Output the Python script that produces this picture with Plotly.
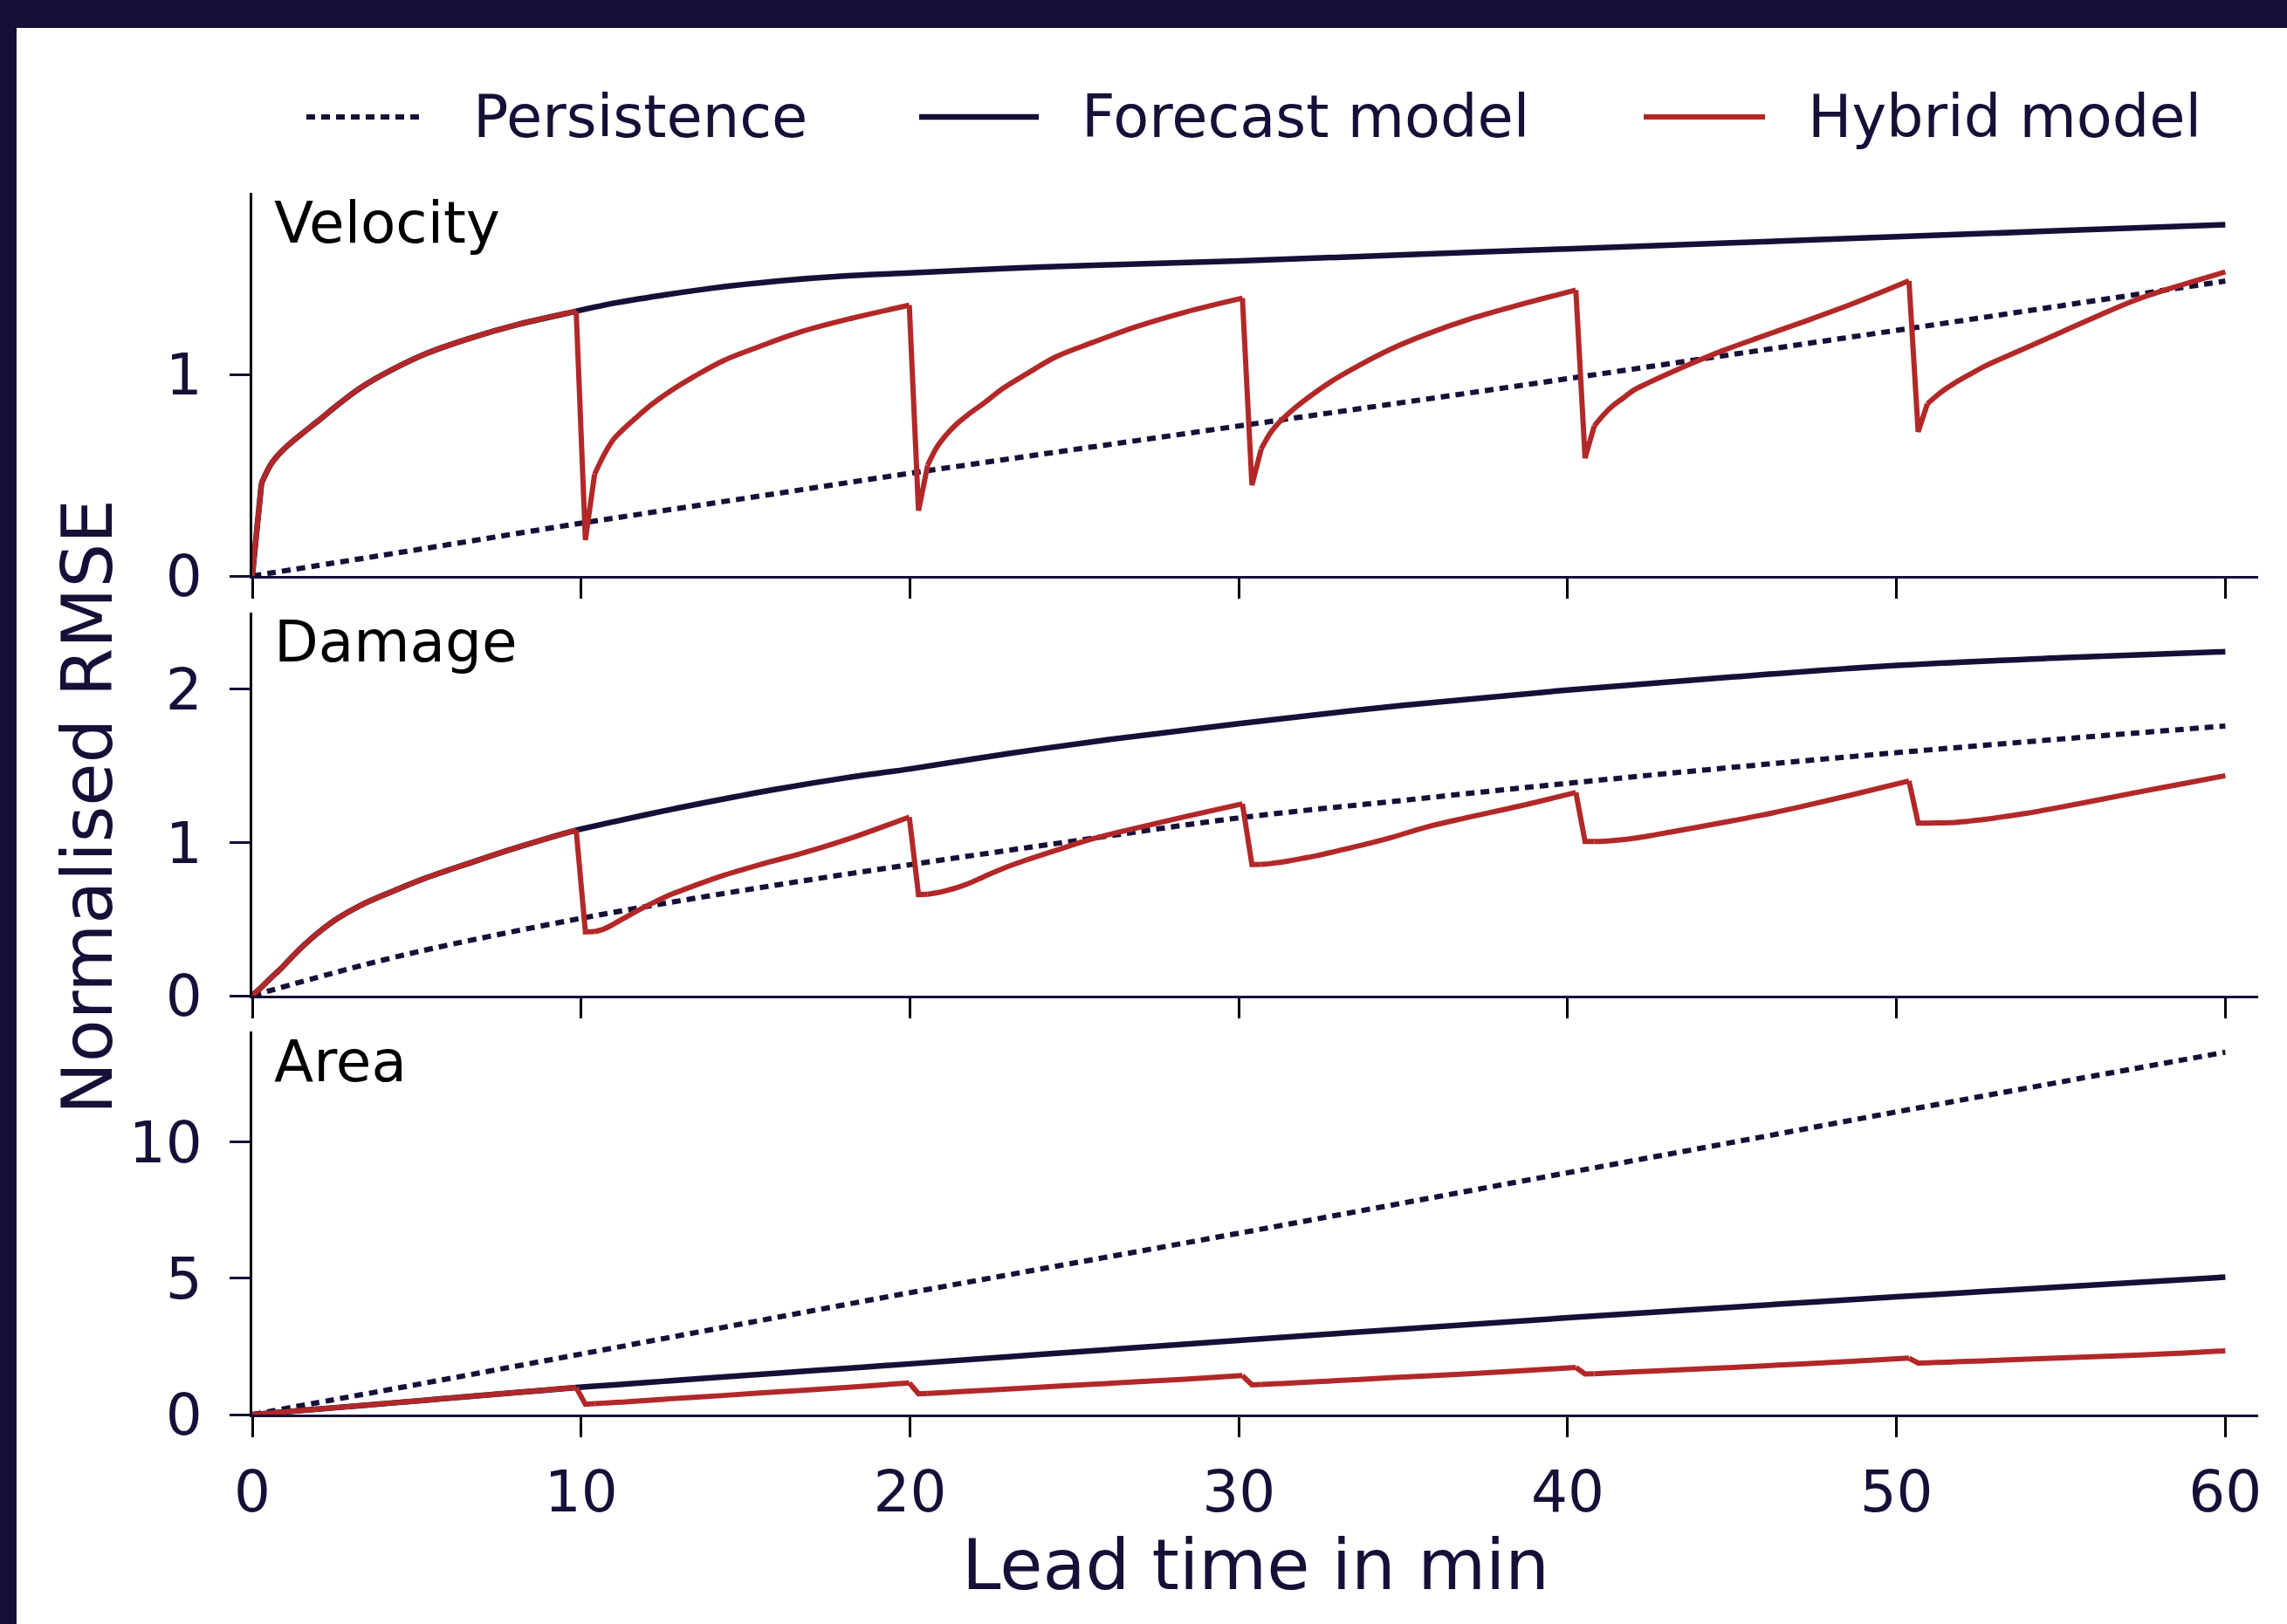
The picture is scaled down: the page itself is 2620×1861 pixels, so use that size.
import plotly.graph_objects as go

# ---------------- data ----------------
lead_ticks = [0, 10, 20, 30, 40, 50, 60]
panel_names = ["Velocity", "Damage", "Area"]

t_persist = [0, 2.5, 5, 10, 15, 20, 25, 30, 35, 40, 45, 50, 55, 60]
persist_velocity = [0, 0.065, 0.13, 0.262, 0.386, 0.51, 0.628, 0.745, 0.862, 0.98, 1.10, 1.22, 1.342, 1.465]
persist_damage = [0, 0.15, 0.285, 0.505, 0.69, 0.855, 1.01, 1.16, 1.275, 1.386, 1.49, 1.586, 1.675, 1.76]
persist_area = [0, 0.55, 1.1, 2.22, 3.35, 4.47, 5.56, 6.65, 7.76, 8.87, 9.98, 11.1, 12.2, 13.29]

t_forecast = [0, 0.28, 0.56, 0.84, 1.13, 1.5, 2.0, 2.6, 3.3, 4.2, 5.3, 6.6, 8.1, 9.85,
              11, 12.5, 14, 16, 18, 20, 23, 26, 30, 35, 40, 45, 50, 55, 60]
forecast_velocity = [0, 0.46, 0.553, 0.61, 0.655, 0.705, 0.77, 0.85, 0.935, 1.02, 1.105, 1.18, 1.25, 1.315,
                     1.355, 1.395, 1.43, 1.465, 1.49, 1.505, 1.528, 1.545, 1.565, 1.595, 1.625, 1.655,
                     1.685, 1.715, 1.745]
forecast_damage = [0, 0.055, 0.115, 0.17, 0.235, 0.315, 0.41, 0.505, 0.59, 0.675, 0.77, 0.865, 0.97, 1.08,
                   1.135, 1.205, 1.27, 1.35, 1.42, 1.48, 1.58, 1.67, 1.775, 1.895, 1.995, 2.08,
                   2.155, 2.205, 2.245]
forecast_area = [0, 0.028, 0.056, 0.084, 0.113, 0.15, 0.20, 0.26, 0.33, 0.42, 0.53, 0.665, 0.815, 0.99,
                 1.09, 1.22, 1.35, 1.52, 1.69, 1.86, 2.12, 2.38, 2.72, 3.14, 3.55, 3.94,
                 4.32, 4.68, 5.04]

t_hybrid = [0, 0.28, 0.56, 0.84, 1.13, 1.5, 2.0, 2.6, 3.3, 4.2, 5.3, 6.6, 8.1, 9.85,
            10.13, 10.41, 10.69, 10.97, 11.26, 11.63, 12.13, 12.73, 13.43, 14.33, 15.43, 16.73, 18.23, 19.98,
            20.26, 20.54, 20.82, 21.10, 21.39, 21.76, 22.26, 22.86, 23.56, 24.46, 25.56, 26.86, 28.36, 30.11,
            30.40, 30.68, 30.96, 31.24, 31.53, 31.90, 32.40, 33.00, 33.70, 34.60, 35.70, 37.00, 38.50, 40.25,
            40.53, 40.81, 41.09, 41.37, 41.66, 42.03, 42.53, 43.13, 43.83, 44.73, 45.83, 47.13, 48.63, 50.38,
            50.66, 50.94, 51.22, 51.50, 51.79, 52.16, 52.66, 53.26, 53.96, 54.86, 55.96, 57.26, 58.76, 60.0]
hybrid_velocity = [0, 0.46, 0.553, 0.61, 0.655, 0.705, 0.77, 0.85, 0.935, 1.02, 1.105, 1.18, 1.25, 1.315,
                   0.178, 0.505, 0.60, 0.675, 0.725, 0.78, 0.85, 0.92, 0.99, 1.07, 1.14, 1.215, 1.28, 1.345,
                   0.325, 0.55, 0.64, 0.70, 0.75, 0.80, 0.86, 0.935, 1.005, 1.09, 1.16, 1.237, 1.31, 1.38,
                   0.451, 0.63, 0.71, 0.765, 0.81, 0.86, 0.92, 0.985, 1.05, 1.125, 1.20, 1.275, 1.345, 1.42,
                   0.585, 0.745, 0.80, 0.845, 0.88, 0.925, 0.965, 1.01, 1.06, 1.12, 1.185, 1.26, 1.35, 1.466,
                   0.716, 0.855, 0.895, 0.93, 0.96, 0.995, 1.04, 1.085, 1.135, 1.20, 1.28, 1.37, 1.45, 1.51]
hybrid_damage = [0, 0.055, 0.115, 0.17, 0.235, 0.315, 0.41, 0.505, 0.59, 0.675, 0.77, 0.865, 0.97, 1.08,
                 0.416, 0.418, 0.435, 0.465, 0.50, 0.545, 0.60, 0.66, 0.717, 0.785, 0.855, 0.93, 1.03, 1.166,
                 0.66, 0.662, 0.672, 0.686, 0.703, 0.73, 0.778, 0.833, 0.887, 0.95, 1.024, 1.093, 1.168, 1.252,
                 0.856, 0.857, 0.862, 0.87, 0.88, 0.895, 0.915, 0.945, 0.98, 1.03, 1.10, 1.165, 1.236, 1.326,
                 1.006, 1.006, 1.008, 1.012, 1.018, 1.028, 1.045, 1.068, 1.095, 1.13, 1.175, 1.235, 1.31, 1.402,
                 1.126, 1.126, 1.127, 1.128, 1.13, 1.138, 1.15, 1.168, 1.19, 1.225, 1.27, 1.325, 1.385, 1.436]
hybrid_area = [0, 0.028, 0.056, 0.084, 0.113, 0.15, 0.20, 0.26, 0.33, 0.42, 0.53, 0.665, 0.815, 0.99,
               0.38, 0.40, 0.42, 0.44, 0.46, 0.49, 0.53, 0.58, 0.63, 0.70, 0.79, 0.89, 1.01, 1.16,
               0.76, 0.775, 0.79, 0.81, 0.83, 0.855, 0.89, 0.93, 0.975, 1.04, 1.11, 1.20, 1.30, 1.43,
               1.09, 1.105, 1.12, 1.135, 1.15, 1.175, 1.205, 1.245, 1.29, 1.35, 1.42, 1.50, 1.60, 1.73,
               1.49, 1.50, 1.515, 1.53, 1.545, 1.565, 1.59, 1.625, 1.665, 1.715, 1.78, 1.855, 1.95, 2.07,
               1.89, 1.90, 1.91, 1.92, 1.935, 1.95, 1.97, 2.0, 2.03, 2.07, 2.12, 2.18, 2.26, 2.34]

y_ticks = [[0, 1], [0, 1, 2], [0, 5, 10]]
y_ranges = [[0, 1.903], [0, 2.5], [0, 14.05]]

legend_labels = ["Persistence", "Forecast model", "Hybrid model"]

# ---------------- style ----------------
W, H = 2620, 1861
NAVY = "#180f38"
RED = "#b22828"
FONT = "DejaVu Sans"
DOT = "10px,7px"
W_DOT, W_FC, W_HY = 6, 6.5, 6

def px(x):
    return x / W

def py(y):
    return 1 - y / H

x_dom = [px(289), px(2587)]
panel_px = [(221, 660), (702, 1141), (1182, 1621)]

fig = go.Figure()

series = [
    (persist_velocity, forecast_velocity, hybrid_velocity),
    (persist_damage, forecast_damage, hybrid_damage),
    (persist_area, forecast_area, hybrid_area),
]


def add_line(x, y, xa, ya, line, shape):
    fig.add_trace(go.Scatter(x=x, y=y, mode="lines", xaxis=xa, yaxis=ya, line=dict(shape=shape, **line),
                             showlegend=False, hoverinfo="skip"))


def add_sawtooth(x, y, xa, ya, line):
    """Straight pieces for the resets (peak -> minimum -> first sample), smooth curve in between."""
    starts = [0] + [i for i in range(1, len(y)) if y[i] < y[i - 1]]
    ends = starts[1:] + [len(y)]
    for s, e in zip(starts, ends):
        lo = max(s - 1, 0)
        add_line(x[lo:s + 2], y[lo:s + 2], xa, ya, line, "linear")
        add_line(x[s + 1:e], y[s + 1:e], xa, ya, line, "spline")


for i, (pers, fc, hyb) in enumerate(series):
    xa = "x" if i == 0 else f"x{i+1}"
    ya = "y" if i == 0 else f"y{i+1}"
    add_line(t_persist, pers, xa, ya, dict(color=NAVY, width=W_DOT, dash=DOT), "spline")
    add_sawtooth(t_forecast, fc, xa, ya, dict(color=NAVY, width=W_FC))
    add_sawtooth(t_hybrid, hyb, xa, ya, dict(color=RED, width=W_HY))

layout = dict(
    width=W, height=H, autosize=False,
    margin=dict(l=0, r=0, t=0, b=0, pad=0, autoexpand=False),
    paper_bgcolor="white", plot_bgcolor="white",
    font=dict(family=FONT, color=NAVY, size=66),
    showlegend=False,
)

for i in range(3):
    top, bot = panel_px[i]
    xkey = "xaxis" if i == 0 else f"xaxis{i+1}"
    ykey = "yaxis" if i == 0 else f"yaxis{i+1}"
    ya = "y" if i == 0 else f"y{i+1}"
    xa = "x" if i == 0 else f"x{i+1}"
    layout[xkey] = dict(
        domain=x_dom, anchor=ya, range=[0, 61], tickvals=lead_ticks,
        ticktext=[str(v) for v in lead_ticks], showticklabels=(i == 2),
        showline=True, linecolor=NAVY, linewidth=3,
        ticks="outside", ticklen=23, tickwidth=3, tickcolor="black",
        showgrid=False, zeroline=False, fixedrange=True, automargin=False,
        tickfont=dict(family=FONT, size=66, color=NAVY), ticklabelstandoff=6,
    )
    layout[ykey] = dict(
        domain=[py(bot), py(top)], anchor=xa, range=y_ranges[i], tickvals=y_ticks[i],
        showline=True, linecolor="black", linewidth=3,
        ticks="outside", ticklen=23, tickwidth=3, tickcolor=NAVY,
        showgrid=False, zeroline=False, fixedrange=True, automargin=False,
        tickfont=dict(family=FONT, size=66, color=NAVY), ticklabelstandoff=18,
    )

fig.update_layout(**layout)

annotations = []
shapes = []

for i, name in enumerate(panel_names):
    top, bot = panel_px[i]
    annotations.append(dict(text=name, x=px(312), y=py(top + 34), xref="paper", yref="paper",
                            xanchor="left", yanchor="middle", showarrow=False,
                            font=dict(family=FONT, size=66, color="black")))

annotations.append(dict(text="Normalised RMSE", x=px(100), y=py(925), xref="paper", yref="paper",
                        textangle=-90, xanchor="center", yanchor="middle", showarrow=False,
                        font=dict(family=FONT, size=80, color=NAVY)))
annotations.append(dict(text="Lead time in min", x=px(1438), y=py(1793), xref="paper", yref="paper",
                        xanchor="center", yanchor="middle", showarrow=False,
                        font=dict(family=FONT, size=80, color=NAVY)))

leg_y = 134
leg_items = [
    (351, 487, 540, dict(color=NAVY, width=W_DOT, dash=DOT)),
    (1053, 1190, 1237, dict(color=NAVY, width=W_FC)),
    (1883, 2022, 2069, dict(color=RED, width=W_HY)),
]
for (x0, x1, xt, ln), lab in zip(leg_items, legend_labels):
    shapes.append(dict(type="line", xref="paper", yref="paper", x0=px(x0), x1=px(x1),
                       y0=py(leg_y), y1=py(leg_y), line=ln))
    annotations.append(dict(text=lab, x=px(xt), y=py(leg_y), xref="paper", yref="paper",
                            xanchor="left", yanchor="middle", showarrow=False,
                            font=dict(family=FONT, size=67, color=NAVY)))

# dark frame (top and left bands)
shapes.append(dict(type="rect", xref="paper", yref="paper", x0=0, x1=1, y0=py(32), y1=1,
                   fillcolor=NAVY, line=dict(width=0), layer="above"))
shapes.append(dict(type="rect", xref="paper", yref="paper", x0=0, x1=px(19), y0=0, y1=1,
                   fillcolor=NAVY, line=dict(width=0), layer="above"))

fig.update_layout(annotations=annotations, shapes=shapes)

fig.write_html(
    "out.html",
    config={"displayModeBar": False},
    post_script="document.body.style.margin='0';document.body.style.padding='0';"
                "document.body.style.overflow='hidden';",
)
